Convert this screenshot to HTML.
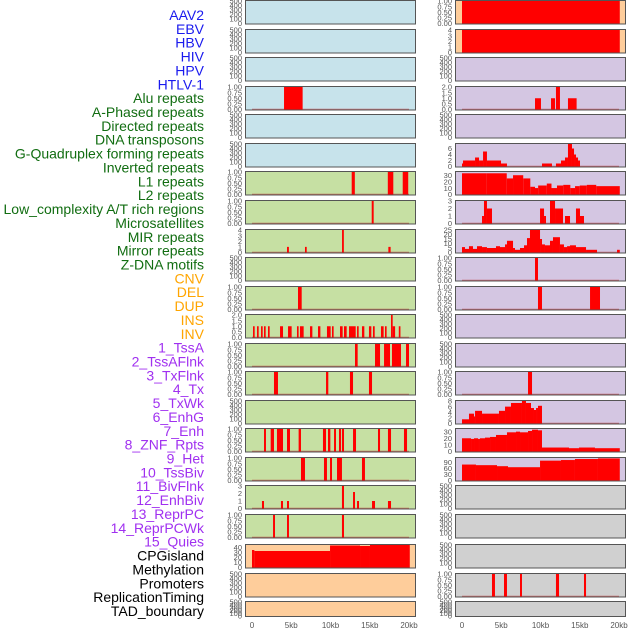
<!DOCTYPE html>
<html><head><meta charset="utf-8"><style>
html,body{margin:0;padding:0;background:#fff;}
svg{display:block;font-family:"Liberation Sans",sans-serif;}
</style></head><body>
<svg id="chart" width="630" height="630" viewBox="0 0 630 630"></svg>
<script>
const NS="http://www.w3.org/2000/svg";
const labelNames=["AAV2","EBV","HBV","HIV","HPV","HTLV-1","Alu repeats","A-Phased repeats","Directed repeats","DNA transposons","G-Quadruplex forming repeats","Inverted repeats","L1 repeats","L2 repeats","Low_complexity A/T rich regions","Microsatellites","MIR repeats","Mirror repeats","Z-DNA motifs","CNV","DEL","DUP","INS","INV","1_TssA","2_TssAFlnk","3_TxFlnk","4_Tx","5_TxWk","6_EnhG","7_Enh","8_ZNF_Rpts","9_Het","10_TssBiv","11_BivFlnk","12_EnhBiv","13_ReprPC","14_ReprPCWk","15_Quies","CPGisland","Methylation","Promoters","ReplicationTiming","TAD_boundary"];
const labelGroups=[6,13,5,15,5];
const groupColors=["#1a1aee","#116d11","#ffa500","#a030f0","#000000"];
const xTickValues=[0,5,10,15,20];
const xTickLabels=["0","5kb","10kb","15kb","20kb"];
const emptyTicks=[0,100,200,300,400,500];
const unitTicks=[0,0.25,0.5,0.75,1];
// left column bars [startKb,endKb,value]
const L3=[[4.08,6.45,1]];
const L6=[[12.7,13.1,1],[17.3,18.0,1],[19.2,19.9,1]];
const L7=[[15.25,15.5,1]];
const L8=[[4.46,4.7,1],[6.75,6.97,1],[11.47,11.7,4],[17.37,17.66,1]];
const L10=[[5.86,6.33,1]];
const L11=[[0.13,0.34,1],[0.64,0.85,1],[1.15,1.36,1],[1.53,1.74,1],[2.04,2.25,1],[3.57,3.95,1],[4.59,5.05,1],[5.73,5.94,1],[6.11,6.58,1],[7.39,7.69,1],[8.41,8.71,1],[9.55,10.02,1],[10.19,10.4,1],[11.21,11.55,1],[11.72,12.06,1],[12.36,13.21,1],[13.38,13.59,1],[14.01,14.31,1],[14.9,15.2,1],[15.41,15.63,1],[16.43,16.77,1],[16.94,17.15,1],[17.71,17.92,2],[17.92,18.23,1],[18.7,18.91,1]];
const L12=[[13.12,13.46,1],[15.67,16.31,1],[16.82,17.58,1],[17.83,18.98,1],[19.62,20.0,1]];
const L13=[[2.8,3.31,1],[9.43,9.72,1],[12.48,12.87,1],[14.9,15.29,1]];
const L15=[[1.53,1.78,1],[2.38,2.8,1],[3.18,3.95,1],[4.46,4.84,1],[5.94,6.24,1],[9.04,9.43,1],[9.68,9.98,1],[10.45,10.7,1],[11.08,11.34,1],[11.46,11.72,1],[12.87,13.25,1],[16.05,16.31,1],[17.32,17.71,1],[19.36,19.75,1]];
const L16=[[6.24,6.75,1],[9.17,9.55,1],[9.94,10.19,1],[10.83,11.46,1],[14.01,14.39,1]];
const L17=[[1.27,1.53,1],[3.69,3.95,1],[4.46,4.71,1],[11.46,11.72,3],[12.87,13.12,2.2],[13.38,13.63,1],[15.29,15.67,1],[17.32,17.71,1]];
const L18=[[2.68,2.93,1],[4.46,4.71,1],[11.46,11.72,1]];
const L19=[[0,0.3,35],[0.3,9.94,33],[9.94,13.76,44],[13.76,15.03,43],[15.03,20.1,45]];
// right column
const R0=[[0,20.1,1]];
const R1=[[0,20.1,4]];
const R3=[[9.3,10.06,1],[11.34,11.85,1],[11.97,12.48,2],[13.5,14.6,1]];
const R5=[[0,0.13,1],[0.13,1.66,2],[1.66,2.17,3],[2.17,2.68,2],[2.68,3.18,5],[3.18,4.97,2],[4.97,5.73,1],[10.19,11.46,1],[11.97,12.61,1],[12.61,13.12,2],[13.12,13.5,3],[13.5,14.01,7.5],[14.01,14.27,6],[14.27,14.52,4],[14.52,14.78,3],[14.78,15.03,2]];
const R6=[[0,3.1,33],[3.1,5.7,33],[5.7,6.5,25],[6.5,7.8,30],[7.8,8.7,25],[8.7,9.3,12],[9.3,9.7,10],[9.7,10.8,14],[10.8,11.4,17],[11.4,12.1,10],[12.1,12.9,14],[12.9,13.8,15],[13.8,14.4,10],[14.4,15.0,13],[15.0,15.9,14],[15.9,17.1,15],[17.1,20.1,13]];
const R7=[[2.55,2.8,1],[2.8,3.18,3],[3.18,3.82,2],[9.94,10.45,2],[10.45,10.7,1],[11.21,11.85,3],[11.85,12.87,2],[13.12,13.76,1],[14.52,15.03,2],[15.03,15.54,1]];
const R8=[[0,0.38,6],[0.38,0.89,4],[0.89,1.4,7],[1.4,1.91,4],[1.91,2.55,7],[2.55,3.18,6],[3.18,4.33,5],[4.33,4.84,7],[4.84,5.48,6],[5.48,5.73,9],[5.73,6.5,13],[6.5,6.75,5],[6.75,7.39,3],[7.39,7.9,5],[7.9,8.28,8],[8.28,8.66,16],[8.66,9.94,25],[9.94,10.19,15],[10.19,10.57,9],[10.57,11.21,8],[11.21,11.59,13],[11.59,12.48,17],[12.48,12.99,9],[12.99,13.38,6],[13.38,13.76,7],[13.76,14.52,8],[14.52,15.8,6],[15.8,17.2,3],[19.75,20.1,3]];
const R9=[[9.3,9.68,1]];
const R10=[[9.68,10.19,1],[16.31,17.58,1]];
const R13=[[8.41,8.92,1]];
const R14=[[0,0.89,1.5],[0.89,1.53,3.5],[1.53,1.66,2.5],[1.66,2.55,4.5],[2.55,4.71,3.5],[4.71,5.48,4.5],[5.48,6.24,6],[6.24,7.64,7.3],[7.64,8.15,8],[8.15,8.79,7.3],[8.79,9.17,5.5],[9.17,9.43,4.8],[9.43,9.68,5.5],[9.68,10.19,6.3]];
const R15=[[0,1.15,20],[1.15,1.53,19],[1.53,2.04,20],[2.04,2.29,19],[2.29,2.93,20],[2.93,3.57,21],[3.57,4.33,22],[4.33,5.73,25],[5.73,6.88,29],[6.88,7.39,30],[7.39,8.41,29],[8.41,8.92,31],[8.92,9.68,33],[9.68,10.19,32],[10.19,13.63,6],[13.63,14.9,5],[14.9,16.94,6],[16.94,20.1,5]];
const R16=[[0,1.78,78],[1.78,4.46,75],[4.46,5.86,70],[5.86,9.94,65],[9.94,12.61,97],[12.61,14.39,100],[14.39,17.32,105],[17.32,20.1,108]];
const R20=[[3.82,4.2,1],[5.35,5.73,1],[7.39,7.64,1],[11.97,12.36,1],[15.54,15.8,1]];

const rowTops=[0,29,57,86,114,143,171,200,229,257,286,314,343,371,400,428,457,485,514,544,573,601];
const C={blue:"#c7e3eb",green:"#c6e0a3",orange:"#fecd9b",purple:"#d4c6e2",gray:"#d0d0d0"};
function P(bars,ticks,ymax,bg){return {bars,ticks,ymax,bg};}
const E=(bg)=>P(null,emptyTicks,500,bg);
const leftPanels=[E(C.blue),E(C.blue),E(C.blue),P(L3,unitTicks,1,C.blue),E(C.blue),E(C.blue),
 P(L6,unitTicks,1,C.green),P(L7,unitTicks,1,C.green),P(L8,[0,1,2,3,4],4,C.green),E(C.green),P(L10,unitTicks,1,C.green),
 P(L11,[0,0.5,1,1.5,2],2,C.green),P(L12,unitTicks,1,C.green),P(L13,unitTicks,1,C.green),E(C.green),P(L15,unitTicks,1,C.green),
 P(L16,unitTicks,1,C.green),P(L17,[0,1,2,3],3,C.green),P(L18,unitTicks,1,C.green),P(L19,[0,10,20,30,40],45,C.orange),E(C.orange),E(C.orange)];
const rightPanels=[P(R0,unitTicks,1,C.orange),P(R1,[0,1,2,3,4],4,C.orange),E(C.purple),P(R3,[0,0.5,1,1.5,2],2,C.purple),E(C.purple),
 P(R5,[0,2,4,6],7.5,C.purple),P(R6,[0,10,20,30],35,C.purple),P(R7,[0,1,2,3],3,C.purple),P(R8,[0,5,10,15,20,25],25,C.purple),
 P(R9,unitTicks,1,C.purple),P(R10,unitTicks,1,C.purple),E(C.purple),E(C.purple),P(R13,unitTicks,1,C.purple),P(R14,[0,2,4,6,8],8,C.purple),
 P(R15,[0,10,20,30],34,C.purple),P(R16,[0,30,60,90],110,C.purple),E(C.gray),E(C.gray),E(C.gray),P(R20,unitTicks,1,C.gray),E(C.gray)];

const svg=document.getElementById('chart');
function mk(tag,attrs,parent){const e=document.createElementNS(NS,tag);for(const k in attrs)e.setAttribute(k,attrs[k]);(parent||svg).appendChild(e);return e;}

let idx=0;
labelGroups.forEach((n,g)=>{for(let j=0;j<n;j++){const t=mk('text',{x:204,y:15+idx*13.86+5,'text-anchor':'end','font-size':'14',fill:groupColors[g]});
 
 
 t.textContent=labelNames[idx];idx++;}});

function fmt(v,ticks){const dec=ticks.some(t=>t%1!==0)?(ticks.some(t=>(t*4)%2===1)?2:1):0;return v.toFixed(dec);}
function drawColumn(panels,left,colName){
 const x0=left+7,x1=left+164;
 const xs=kb=>x0+kb/20*(x1-x0);
 panels.forEach((p,i)=>{
  const top=rowTops[i],bot=(i===rowTops.length-1)?617:top+24.5;
  const g=mk('g',{});
  
  
  mk('rect',{x:left,y:top,width:171,height:bot-top,fill:p.bg},g);
  const ys=v=>(bot-1)-v/p.ymax*(bot-top-2);
  if(p.bars){
   mk('line',{x1:xs(0),x2:xs(20),y1:ys(0),y2:ys(0),stroke:'rgba(190,40,40,0.6)','stroke-width':1.6},g);
   p.bars.forEach(b=>{const r=mk('rect',{x:xs(b[0]),y:ys(b[2]),width:Math.max(xs(b[1])-xs(b[0]),1),height:ys(0)-ys(b[2]),fill:'#ff0000'},g);
    
    });
  }
  mk('rect',{x:left+0.5,y:top+0.5,width:170,height:bot-top-1,fill:'none',stroke:'#555','stroke-width':1},g);
  p.ticks.forEach(t=>{const tx=mk('text',{x:left-3,y:ys(t)+2.7,'text-anchor':'end','font-size':'7.5',fill:'#555'},g);
   
   
   tx.textContent=fmt(t,p.ticks);});
 });
 xTickValues.forEach((v,k)=>{const t=mk('text',{x:xs(v),y:628,'text-anchor':'middle','font-size':'8',fill:'#555'});
  
  
  t.textContent=xTickLabels[k];});
}
drawColumn(leftPanels,245,'left');
drawColumn(rightPanels,455,'right');
</script>
</body></html>
